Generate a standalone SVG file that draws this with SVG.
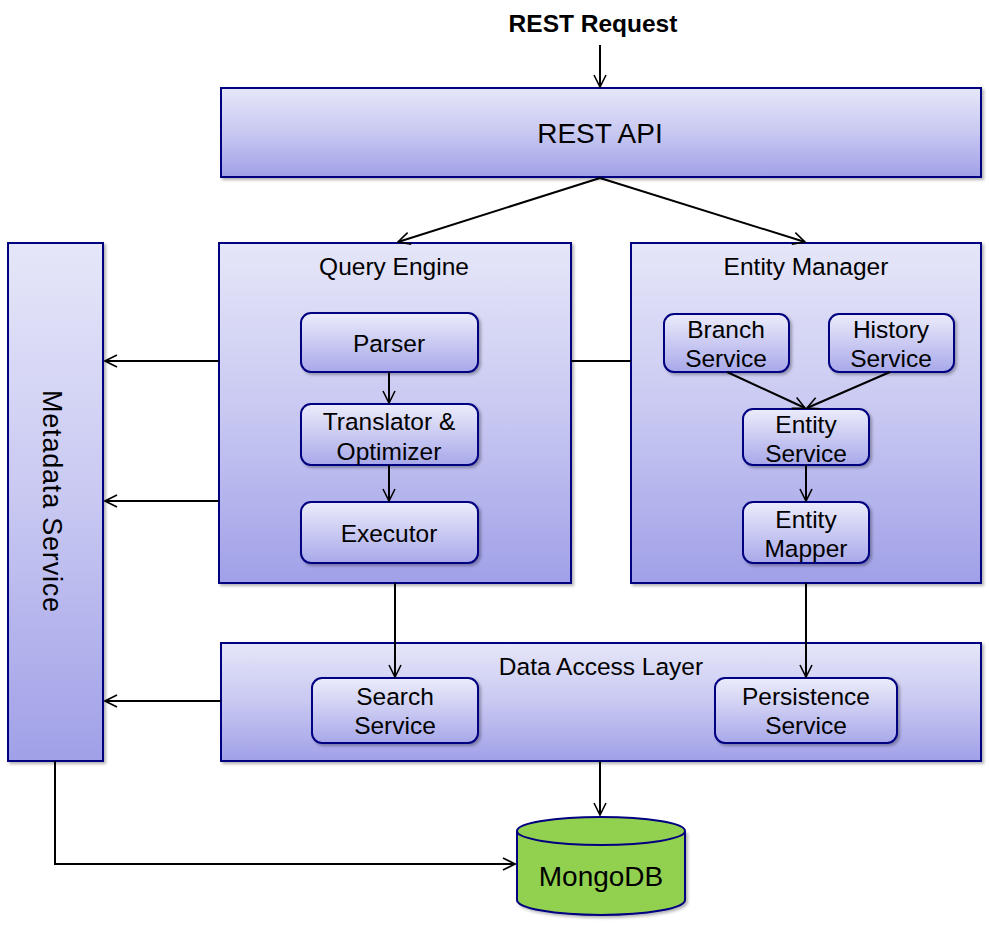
<svg xmlns="http://www.w3.org/2000/svg" width="989" height="927" viewBox="0 0 989 927">
<defs>
<linearGradient id="g" x1="0" y1="0" x2="0" y2="1">
<stop offset="0" stop-color="#e6e6f9"/>
<stop offset="0.5" stop-color="#c8c8f2"/>
<stop offset="1" stop-color="#a0a0e8"/>
</linearGradient>
<linearGradient id="gs" x1="0" y1="0" x2="0" y2="1">
<stop offset="0" stop-color="#ececfb"/>
<stop offset="1" stop-color="#a8a8ea"/>
</linearGradient>
<filter id="sh" x="-5%" y="-5%" width="115%" height="115%">
<feDropShadow dx="2" dy="2" stdDeviation="1.5" flood-color="#000" flood-opacity="0.3"/>
</filter>
<marker id="a" viewBox="0 0 14 14" refX="13" refY="7" markerWidth="14" markerHeight="14" markerUnits="userSpaceOnUse" orient="auto">
<path d="M1,1 L13,7 L1,13" fill="none" stroke="#000" stroke-width="1.6"/>
</marker>
</defs>
<style>
.box{fill:url(#g);stroke:#000080;stroke-width:2;filter:url(#sh)}
.sub{fill:url(#gs);stroke:#000080;stroke-width:2;filter:url(#sh)}
.t{font-family:"Liberation Sans",Arial,sans-serif;font-size:24.5px;fill:#000;text-anchor:middle}
.big{font-size:28px}
.c{fill:none;stroke:#000;stroke-width:2}
.ca{fill:none;stroke:#000;stroke-width:2;marker-end:url(#a)}
</style>
<rect width="989" height="927" fill="#fff"/>
<text class="t" x="593" y="32" font-weight="bold" style="font-size:24.5px">REST Request</text>

<g id="rest-api">
<rect class="box" x="221" y="88" width="760" height="89"/>
<text class="t big" x="600" y="143">REST API</text>
</g>
<g id="metadata-service">
<rect class="box" x="8" y="243" width="95" height="518"/>
<text class="t" style="font-size:27px" transform="translate(43,501) rotate(90)" x="0" y="0" textLength="222" lengthAdjust="spacing">Metadata  Service</text>
</g>
<g id="query-engine">
<rect class="box" x="219" y="243" width="352" height="340"/>
<text class="t" x="394" y="275">Query Engine</text>
</g>
<g id="entity-manager">
<rect class="box" x="631" y="243" width="350" height="340"/>
<text class="t" x="806" y="275">Entity Manager</text>
</g>
<g id="data-access-layer">
<rect class="box" x="221" y="643" width="760" height="118"/>
<text class="t" x="601" y="675">Data Access Layer</text>
</g>
<g id="parser">
<rect class="sub" x="301" y="313" width="177" height="59" rx="10"/>
<text class="t" x="389" y="352">Parser</text>
</g>
<g id="translator">
<rect class="sub" x="301" y="404" width="177" height="61" rx="10"/>
<text class="t" x="389" y="430">Translator &amp;</text>
<text class="t" x="389" y="460">Optimizer</text>
</g>
<g id="executor">
<rect class="sub" x="301" y="502" width="177" height="61" rx="10"/>
<text class="t" x="389" y="542">Executor</text>
</g>
<g id="branch-service">
<rect class="sub" x="664" y="314" width="125" height="58" rx="10"/>
<text class="t" x="726" y="338">Branch</text>
<text class="t" x="726" y="367">Service</text>
</g>
<g id="history-service">
<rect class="sub" x="829" y="314" width="125" height="58" rx="10"/>
<text class="t" x="891" y="338">History</text>
<text class="t" x="891" y="367">Service</text>
</g>
<g id="entity-service">
<rect class="sub" x="743" y="409" width="126" height="56" rx="10"/>
<text class="t" x="806" y="433">Entity</text>
<text class="t" x="806" y="462">Service</text>
</g>
<g id="entity-mapper">
<rect class="sub" x="743" y="502" width="126" height="61" rx="10"/>
<text class="t" x="806" y="528">Entity</text>
<text class="t" x="806" y="557">Mapper</text>
</g>
<g id="search-service">
<rect class="sub" x="312" y="678" width="166" height="65" rx="10"/>
<text class="t" x="395" y="705">Search</text>
<text class="t" x="395" y="734">Service</text>
</g>
<g id="persistence-service">
<rect class="sub" x="715" y="678" width="182" height="65" rx="10"/>
<text class="t" x="806" y="705">Persistence</text>
<text class="t" x="806" y="734">Service</text>
</g>
<g id="mongodb">
<path d="M517,831 L517,900 A84,15 0 0 0 685,900 L685,831" fill="#92d050" stroke="#000080" stroke-width="2" filter="url(#sh)"/>
<ellipse cx="601" cy="831" rx="84" ry="14" fill="#92d050" stroke="#000080" stroke-width="2"/>
<text class="t big" x="601" y="886">MongoDB</text>
</g>

<g id="connectors">
<line class="ca" x1="600" y1="45" x2="600" y2="87"/>
<line class="ca" x1="600" y1="178" x2="398" y2="242"/>
<line class="ca" x1="600" y1="178" x2="805" y2="242"/>
<line class="c" x1="571" y1="361" x2="631" y2="361"/>
<line class="ca" x1="219" y1="361" x2="105" y2="361"/>
<line class="ca" x1="219" y1="501" x2="105" y2="501"/>
<line class="ca" x1="221" y1="701" x2="105" y2="701"/>
<line class="ca" x1="389" y1="372" x2="389" y2="403"/>
<line class="ca" x1="389" y1="465" x2="389" y2="501"/>
<line class="ca" x1="727" y1="372" x2="805" y2="408"/>
<line class="ca" x1="890" y1="372" x2="807" y2="408"/>
<line class="ca" x1="806" y1="465" x2="806" y2="501"/>
<line class="ca" x1="395" y1="583" x2="395" y2="677"/>
<line class="ca" x1="806" y1="583" x2="806" y2="677"/>
<line class="ca" x1="600" y1="761" x2="600" y2="815"/>
<polyline class="ca" points="55,761 55,864 515,864"/>
</g>
</svg>
